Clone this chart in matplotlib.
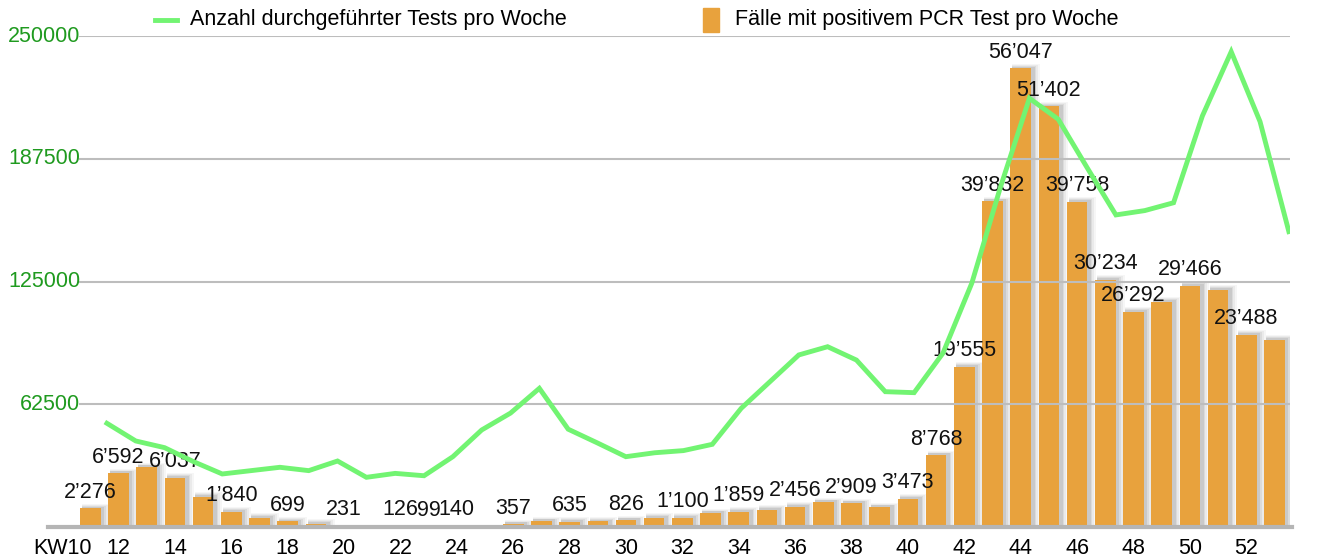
import numpy as np
import matplotlib
matplotlib.use("Agg")
import matplotlib.pyplot as plt
from matplotlib.lines import Line2D
from matplotlib.patches import Rectangle
from matplotlib.transforms import blended_transform_factory

plt.rcParams['font.family'] = ['Liberation Sans', 'DejaVu Sans']

# Fälle mit positivem PCR Test pro Woche (KW11 - KW53)
weeks = list(range(11, 54))
cases = [2276, 6592, 7330, 6037, 3670, 1840, 1100, 699, 400, 231,
         150, 126, 99, 140, 200, 357, 730, 635, 700, 826,
         1100, 1100, 1710, 1859, 2080, 2456, 3050, 2909, 2440, 3473,
         8768, 19555, 39832, 56047, 51402, 39758, 30234, 26292, 27500, 29466,
         28970, 23488, 22880]
# weeks that carry a value label in the original chart
labelled_weeks = [11, 12, 14, 16, 18, 20, 22, 23, 24, 26, 28, 30, 32, 34, 36,
                  38, 40, 41, 42, 43, 44, 45, 46, 47, 48, 50, 52]

# Anzahl durchgeführter Tests pro Woche
tests = [52800, 43800, 40400, 33300, 27000, 28700, 30400, 28700, 33600, 25300,
         27300, 26100, 35800, 49400, 58000, 70600, 49800, 42900, 35800, 37800,
         38900, 42100, 60400, 74000, 87600, 91800, 85000, 68900, 68400, 88500,
         124100, 173300, 218300, 207600, 183000, 158900, 161100, 165100, 209300, 242000,
         206400, 150400]

tick_weeks = list(range(10, 53, 2))
tick_labels = ['KW10'] + [str(w) for w in range(12, 53, 2)]
test_ticks = [62500, 125000, 187500, 250000]

orange = '#E8A23D'
green_line = '#72F472'
green_text = '#1F9A1F'
grid_grey = '#BDBDBD'
fs = 15.5

W, H = 1320, 560
fig = plt.figure(figsize=(W / 100, H / 100), dpi=100)
ax = fig.add_axes([48 / W, 33 / H, 1242 / W, 491 / H])
x0, x1 = 9.5, 53.55
ax.set_xlim(x0, x1)
ax.set_ylim(0, 60000)
for s in ax.spines.values():
    s.set_visible(False)
ax.set_yticks([])
ax.set_xticks(tick_weeks, tick_labels, fontsize=fs)
ax.tick_params(axis='x', length=0, pad=8)

# bars with soft drop shadow, mostly to the right
px_x = (x1 - x0) / 1242
px_y = 60000 / 491
cases_arr = np.array(cases)
weeks_arr = np.array(weeks)
bar_w = 0.73
shown = cases_arr > 300
for k, a in [(7, 0.04), (5, 0.06), (3, 0.08), (1.5, 0.10)]:
    ax.bar(weeks_arr[shown] + (2 + k / 2) * px_x, cases_arr[shown] + (1 + k / 2) * px_y,
           width=bar_w + k * px_x, color='#303030', alpha=a, linewidth=0, zorder=1)
ax.bar(weeks_arr, cases_arr, width=bar_w, color=orange, linewidth=0, zorder=2)

for w, v in zip(weeks, cases):
    if w in labelled_weeks:
        txt = f"{v:,}".replace(",", "\u2019")
        ax.annotate(txt, (w, v), xytext=(0, 16), textcoords='offset pixels',
                    ha='center', va='center', fontsize=fs, color='#111111', zorder=3)

# tests on second scale, drawn on top (grid lines cross the bars)
ax2 = ax.twinx()
ax2.set_ylim(0, 250000)
ax2.set_xlim(x0, x1)
ax2.axis('off')
for t in test_ticks:
    ax2.axhline(t, xmin=32 / 1242, xmax=1.0, color=grid_grey, lw=1.5, zorder=1)
ax2.axhline(0, xmin=0, xmax=1.0 + 2 / 1242, color='#B5B5B5', lw=3, zorder=1, clip_on=False)

line_x = np.linspace(11.59, 53.51, len(tests))
ax2.plot(line_x, tests, color=green_line, lw=3.5, solid_joinstyle='miter', zorder=3)

tr = blended_transform_factory(fig.transFigure, ax2.transData)
for t in test_ticks:
    ax2.text(80 / W, t, str(t), transform=tr, ha='right', va='center',
             fontsize=fs, color=green_text)

# legend
ly = 1 - 20 / H
fig.add_artist(Line2D([155 / W, 177 / W], [ly, ly], color=green_line, lw=3.5))
fig.text(190 / W, ly, 'Anzahl durchgeführter Tests pro Woche', va='center', fontsize=fs)
fig.add_artist(Rectangle((703 / W, 1 - 32 / H), 16 / W, 24 / H, color=orange))
fig.text(735 / W, ly, 'Fälle mit positivem PCR Test pro Woche', va='center', fontsize=fs)

fig.savefig('out.png', dpi=100)
